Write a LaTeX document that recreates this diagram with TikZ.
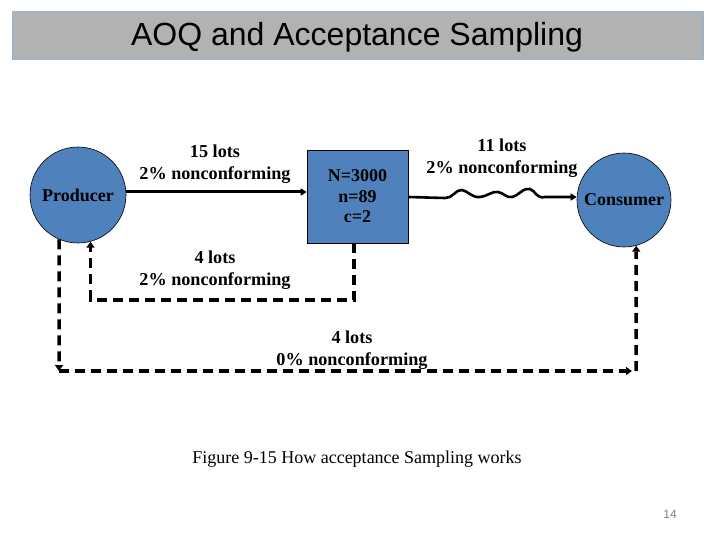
\documentclass[tikz,border=0pt]{standalone}
\usepackage{fontspec}
\setmainfont{Liberation Serif}
\newfontfamily\arialf{Liberation Sans}
\usetikzlibrary{arrows.meta,calc}
\definecolor{boxblue}{HTML}{4F81BD}
\definecolor{titlegray}{HTML}{B2B2B2}
\definecolor{titleedge}{HTML}{95B3D7}
\tikzset{
  lbl/.style={font=\fontsize{18.2}{22}\selectfont\bfseries, align=center, inner sep=0pt},
  party/.style={circle, draw=black, line width=0.6pt, fill=boxblue, font=\fontsize{18}{20}\selectfont\bfseries, inner sep=0pt},
  flow/.style={line width=3pt, -{Triangle[length=6pt,width=7pt]}},
  ret/.style={line width=3.5pt, dash pattern=on 10pt off 6pt, -{Triangle[length=6pt,width=8pt]}}
}
\begin{document}
\begin{tikzpicture}[x=1pt,y=-1pt]
\useasboundingbox (0,0) rectangle (720,540);
% title
\path[draw=titleedge, line width=1pt, fill=titlegray] (12,12) rectangle (703,60);
\node[font=\arialf\fontsize{32}{36}\selectfont, inner sep=0pt] (title) at (357,37) {AOQ and Acceptance Sampling};
% parties
\node[party, minimum size=96pt] (prod) at (78,195) {Producer};
\node[party, minimum size=94pt] (cons) at (624,200) {Consumer};
\node[draw=black, line width=0.6pt, fill=boxblue, minimum width=101pt, minimum height=93pt, inner sep=0pt, align=center, font=\fontsize{18}{20.5}\selectfont\bfseries] (plan) at (357.5,196.5) {N=3000\\n=89\\c=2};
% labels
\node[lbl] (l15) at (215,164) {15 lots\\2\% nonconforming};
\node[lbl] (l11) at (502,158) {11 lots\\2\% nonconforming};
\node[lbl] (l4a) at (215,270) {4 lots\\2\% nonconforming};
\node[lbl] (l4b) at (352,350) {4 lots\\0\% nonconforming};
\node[font=\fontsize{18}{22}\selectfont, inner sep=0pt] (cap) at (357,459) {Figure 9-15 How acceptance Sampling works};
\node[font=\arialf\fontsize{12}{14}\selectfont, text=gray, inner sep=0pt] (pg) at (670,514) {14};
% flows
\draw[flow] (prod.east |- 0,192) -- (plan.west |- 0,192);
\draw[flow, line width=2.6pt] (plan.east |- 0,197) -- (445,198)
  .. controls (452,199) and (456,189) .. (462,190)
  .. controls (468,191) and (472,198) .. (480,197)
  .. controls (488,196) and (492,191) .. (498,192)
  .. controls (504,193) and (506,198) .. (512,197)
  .. controls (518,196) and (524,187) .. (530,189)
  .. controls (536,191) and (536,199) .. (545,197)
  -- (cons.west |- 0,197);
% inner return
\coordinate (c1) at (354,300);
\draw[ret] (plan.south -| 354,0) -- (c1) -| (prod.-75.5);
% outer return
\coordinate (o1) at (59,371);
\coordinate (o2) at (636,371);
\draw[ret] (prod.-113.3) -- (o1);
\draw[ret] (o1) -- ($(o2)+(-4,0)$);
\draw[ret] (o2) -- (cons.-75.2);
\end{tikzpicture}
\end{document}
